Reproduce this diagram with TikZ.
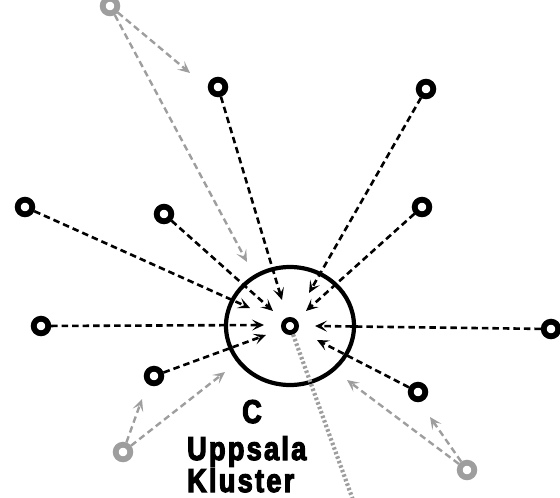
\documentclass[tikz,border=0pt]{standalone}
\usepackage{fontspec}
\usetikzlibrary{arrows.meta,shapes.geometric}
\newfontfamily\labfont{Liberation Sans}[FakeStretch=0.82,FakeBold=3.5,LetterSpace=7,
  UprightFont=*-Bold]
\definecolor{lg}{gray}{0.62}
\begin{document}
\begin{tikzpicture}[x=1pt,y=-1pt,
  pt/.style={circle,draw=black,line width=5.8pt,minimum size=14.6pt,inner sep=0pt},
  gpt/.style={pt,draw=lg},
  ctr/.style={circle,draw=black,line width=4.8pt,minimum size=13.2pt,inner sep=0pt},
  clus/.style={ellipse,draw=black,line width=4.2pt,minimum width=128pt,minimum height=118pt,inner sep=0pt},
  tip/.style={-{Stealth[open,length=12pt,width=11pt,inset=5.5pt,line width=1.7pt]}},
  dl/.style={draw=black,line width=2.6pt,dash pattern=on 6.5pt off 4pt,tip},
  gl/.style={draw=lg,line width=2.4pt,dash pattern=on 6.5pt off 4pt,tip},
  dotl/.style={draw=lg,line width=4.2pt,dash pattern=on 2.5pt off 2.3pt},
  lab/.style={font=\labfont\fontsize{33}{34}\selectfont,inner sep=0pt}]
\useasboundingbox (0,0) rectangle (560,498);
% cluster
\node[clus] (kl) at (290,326) {};
\node[ctr] (c) at (290,326) {};
% outer nodes
\node[pt] (n1) at (218,87) {};
\node[pt] (n2) at (426,89) {};
\node[pt] (n3) at (422,207) {};
\node[pt] (n4) at (551,329) {};
\node[pt] (n5) at (25,207) {};
\node[pt] (n6) at (164,214) {};
\node[pt] (n7) at (41,326) {};
\node[pt] (n8) at (154,376) {};
\node[pt] (n9) at (418,392) {};
% gray nodes
\node[gpt] (g1) at (110,6) {};
\node[gpt] (g2) at (123,452) {};
\node[gpt] (g3) at (467,470) {};
% arrow tips
\coordinate (t1) at (282,300);
\coordinate (t2) at (309,293);
\coordinate (t3) at (306,311);
\coordinate (t4) at (315,326);
\coordinate (t5) at (250,308);
\coordinate (t6) at (273,311);
\coordinate (t7) at (264,325);
\coordinate (t8) at (266,335);
\coordinate (t9) at (317,340);
\coordinate (u1) at (190,73);
\coordinate (u2) at (247,262);
\coordinate (u3) at (142,399);
\coordinate (u4) at (225,372);
\coordinate (u5) at (430,417);
\coordinate (u6) at (347,380);
\coordinate (dend) at (353,500);
% dotted line
\draw[dotl] (c) -- (dend);
% black dashed
\foreach \i in {1,...,9} {\draw[dl] (n\i) -- (t\i);}
% gray dashed
\draw[gl] (g1) -- (u1);
\draw[gl] (g1) -- (u2);
\draw[gl] (g2) -- (u3);
\draw[gl] (g2) -- (u4);
\draw[gl] (g3) -- (u5);
\draw[gl] (g3) -- (u6);
% labels
\node[lab,anchor=base] (lc) at (252,423) {C};
\node[lab,anchor=base west] (lu) at (187,460) {Uppsala};
\node[lab,anchor=base west] (lk) at (187,492) {Kluster};
\end{tikzpicture}
\end{document}
